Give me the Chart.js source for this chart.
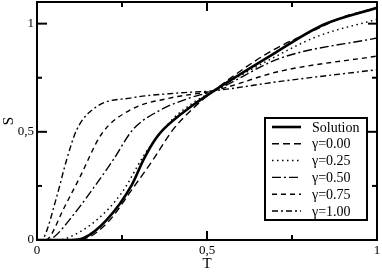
<!DOCTYPE html>
<html>
<head>
<meta charset="utf-8">
<script src="https://cdn.jsdelivr.net/npm/chart.js@4"></script>
<style>
  html, body { margin: 0; padding: 0; background: #fff; }
  #wrap { width: 382px; height: 273px; }
</style>
</head>
<body>
<div id="wrap"><canvas id="chart"></canvas></div>
<script>
/* ----------------------------- */
/* DATA                          */
/* ----------------------------- */
const seriesLabels = ["Solution", "γ=0.00", "γ=0.25", "γ=0.50", "γ=0.75", "γ=1.00"];

const tSolution = [0, 0.1, 0.136, 0.205, 0.279, 0.313, 0.347, 0.371, 0.46, 0.518, 0.68, 0.842, 1];
const sSolution = [0, 0, 0.008, 0.093, 0.255, 0.37, 0.463, 0.51, 0.625, 0.687, 0.845, 0.995, 1.073];

const tGamma000 = [0, 0.1, 0.14, 0.21, 0.28, 0.341, 0.4, 0.46, 0.52, 0.68, 0.823, 0.9, 1];
const sGamma000 = [0, 0, 0.006, 0.085, 0.235, 0.37, 0.51, 0.61, 0.69, 0.865, 0.975, 1.03, 1.073];

const tGamma025 = [0, 0.06, 0.087, 0.176, 0.25, 0.318, 0.4, 0.46, 0.52, 0.68, 0.823, 1];
const sGamma025 = [0, 0, 0.008, 0.093, 0.22, 0.4, 0.56, 0.635, 0.69, 0.83, 0.94, 1.02];

const tGamma050 = [0, 0.03, 0.047, 0.107, 0.176, 0.224, 0.282, 0.362, 0.45, 0.52, 0.715, 1];
const sGamma050 = [0, 0, 0.01, 0.116, 0.262, 0.37, 0.51, 0.6, 0.657, 0.69, 0.84, 0.934];

const tGamma075 = [0, 0.025, 0.038, 0.077, 0.126, 0.19, 0.273, 0.39, 0.52, 0.715, 1];
const sGamma075 = [0, 0, 0.015, 0.14, 0.29, 0.49, 0.6, 0.656, 0.69, 0.78, 0.85];

const tGamma100 = [0, 0.01, 0.019, 0.058, 0.087, 0.117, 0.176, 0.274, 0.42, 0.52, 0.715, 1];
const sGamma100 = [0, 0, 0.008, 0.2, 0.37, 0.51, 0.617, 0.656, 0.68, 0.69, 0.733, 0.787];

const xMajorTicks = [0, 0.5, 1];
const xMinorTicks = [0.25, 0.75];
const yMajorTicks = [0, 0.5, 1];
const yMinorTicks = [0.25, 0.75];

/* ----------------------------- */
/* HELPERS                       */
/* ----------------------------- */
const zip = (xs, ys) => xs.map((x, i) => ({ x: x, y: ys[i] }));
const fmtComma = (v) => String(v).replace(".", ",");
const serif = "'Liberation Serif', 'DejaVu Serif', serif";

const lineSet = (label, xs, ys, width, dash, order) => ({
  label: label,
  data: zip(xs, ys),
  borderColor: "#000",
  borderWidth: width,
  borderDash: dash,
  pointRadius: 0,
  fill: false,
  cubicInterpolationMode: "monotone",
  order: order,
});

// drop the automatic label padding so the frame sits where we want it
const noPad = (s) => {
  s.paddingTop = 0;
  s.paddingBottom = 0;
  s.paddingLeft = 0;
  s.paddingRight = 0;
};

/* ----------------------------- */
/* PLUGIN: frame, ticks, legend  */
/* ----------------------------- */
const framePlugin = {
  id: "frame",
  afterDatasetsDraw(chart) {
    const ctx = chart.ctx;
    const a = chart.chartArea;
    const xs = chart.scales.x;
    const ys = chart.scales.y;
    ctx.save();
    ctx.strokeStyle = "#000";
    ctx.lineWidth = 2;
    ctx.setLineDash([]);
    // inward ticks on all four sides
    const tick = (x1, y1, x2, y2) => {
      ctx.beginPath();
      ctx.moveTo(x1, y1);
      ctx.lineTo(x2, y2);
      ctx.stroke();
    };
    xMajorTicks.forEach((v) => {
      const px = xs.getPixelForValue(v);
      tick(px, a.bottom, px, a.bottom - 9);
      tick(px, a.top, px, a.top + 9);
    });
    xMinorTicks.forEach((v) => {
      const px = xs.getPixelForValue(v);
      tick(px, a.bottom, px, a.bottom - 5);
      tick(px, a.top, px, a.top + 5);
    });
    yMajorTicks.forEach((v) => {
      const py = ys.getPixelForValue(v);
      tick(a.left, py, a.left + 10, py);
      tick(a.right, py, a.right - 9, py);
    });
    yMinorTicks.forEach((v) => {
      const py = ys.getPixelForValue(v);
      tick(a.left, py, a.left + 5, py);
      tick(a.right, py, a.right - 5, py);
    });
    ctx.strokeRect(a.left, a.top, a.right - a.left, a.bottom - a.top);

    // legend box
    const lx = 265, ly = 118, lw = 102, lh = 102;
    ctx.fillStyle = "#fff";
    ctx.fillRect(lx, ly, lw, lh);
    ctx.strokeRect(lx, ly, lw, lh);
    const legendOrder = [5, 0, 1, 2, 3, 4];
    ctx.font = "14px " + serif;
    ctx.textBaseline = "middle";
    ctx.textAlign = "left";
    legendOrder.forEach((di, row) => {
      const ds = chart.data.datasets[di];
      const cy = ly + 9 + row * 16.8;
      ctx.lineWidth = ds.borderWidth;
      ctx.setLineDash(ds.borderDash || []);
      ctx.beginPath();
      ctx.moveTo(272, cy);
      ctx.lineTo(301, cy);
      ctx.stroke();
      ctx.setLineDash([]);
      ctx.fillStyle = "#000";
      ctx.fillText(ds.label, 312, cy + 1);
    });
    ctx.restore();
  },
};

/* ----------------------------- */
/* CHART                         */
/* ----------------------------- */
new Chart(document.getElementById("chart"), {
  type: "line",
  data: {
    datasets: [
      lineSet(seriesLabels[1], tGamma000, sGamma000, 1.4, [7, 4], 2),
      lineSet(seriesLabels[2], tGamma025, sGamma025, 1.5, [1.5, 3.5], 2),
      lineSet(seriesLabels[3], tGamma050, sGamma050, 1.4, [9, 3, 2, 3], 2),
      lineSet(seriesLabels[4], tGamma075, sGamma075, 1.4, [5, 4], 2),
      lineSet(seriesLabels[5], tGamma100, sGamma100, 1.4, [6, 3, 2, 3], 2),
      lineSet(seriesLabels[0], tSolution, sSolution, 2.6, [], 1),
    ],
  },
  options: {
    responsive: true,
    maintainAspectRatio: false,
    animation: false,
    layout: { padding: { top: 2, right: 5, left: 0, bottom: 0 } },
    plugins: { legend: { display: false }, tooltip: { enabled: false } },
    scales: {
      x: {
        type: "linear",
        min: 0,
        max: 1,
        afterBuildTicks: (s) => { s.ticks = xMajorTicks.map((v) => ({ value: v })); },
        afterFit: (s) => { s.height = 33; noPad(s); },
        grid: { display: false, drawTicks: false },
        border: { display: false },
        ticks: {
          padding: 3,
          color: "#000",
          font: { family: serif, size: 13 },
          maxRotation: 0,
          callback: (v) => fmtComma(v),
        },
        title: {
          display: true,
          text: "T",
          color: "#000",
          font: { family: serif, size: 15 },
          padding: { top: -4, bottom: 0 },
        },
      },
      y: {
        type: "linear",
        min: 0,
        max: 1.1,
        afterBuildTicks: (s) => { s.ticks = yMajorTicks.map((v) => ({ value: v })); },
        afterFit: (s) => { s.width = 37; noPad(s); },
        grid: { display: false, drawTicks: false },
        border: { display: false },
        ticks: {
          padding: 3,
          color: "#000",
          font: { family: serif, size: 13 },
          callback: (v) => fmtComma(v),
        },
        title: {
          display: true,
          text: "S",
          color: "#000",
          font: { family: serif, size: 15 },
          padding: { top: 0, bottom: 0 },
        },
      },
    },
  },
  plugins: [framePlugin],
});
</script>
</body>
</html>
